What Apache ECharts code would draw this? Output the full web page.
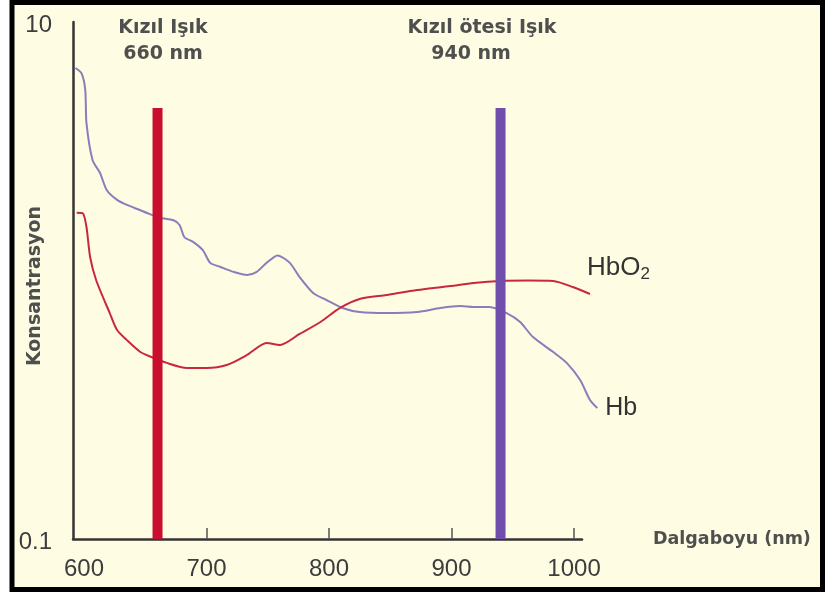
<!DOCTYPE html>
<html>
<head>
<meta charset="utf-8">
<script src="https://cdn.jsdelivr.net/npm/echarts@6/dist/echarts.min.js"></script>
<style>
  html, body { margin: 0; padding: 0; background: #fff; }
  #chart { width: 826px; height: 592px; }
</style>
</head>
<body>
<div id="chart"></div>
<script>
// Absorption spectra of deoxy- (Hb) and oxy-haemoglobin (HbO2), log scale
const hbWavelength = [593, 598, 601, 602, 607, 613, 618.5, 627, 635, 646,
  652, 662, 673, 678, 682, 689, 697, 703, 711, 722,
  733, 741, 749, 758, 768, 776, 787, 798, 811, 825,
  847, 872, 891, 907, 918, 931, 945, 956, 966.5, 983,
  994, 1005, 1013, 1019];
const hbValues = [6.64, 6.33, 5.46, 4.06, 2.92, 2.61, 2.24, 2.05, 1.96, 1.87,
  1.82, 1.75, 1.71, 1.64, 1.47, 1.41, 1.31, 1.17, 1.13, 1.08,
  1.05, 1.08, 1.17, 1.25, 1.17, 1.03, 0.895, 0.84, 0.783, 0.755,
  0.748, 0.755, 0.783, 0.797, 0.79, 0.79, 0.748, 0.691, 0.604, 0.529,
  0.48, 0.412, 0.345, 0.321];

const hbo2Wavelength = [594, 599, 602, 605, 610, 621, 627, 635, 646, 655,
  667.5, 684, 700, 716.5, 733, 749, 760, 776, 793, 809,
  825, 847, 872, 899, 918, 940, 962, 983, 999, 1013];
const hbo2Values = [1.83, 1.82, 1.61, 1.23, 1.00, 0.748, 0.643, 0.588, 0.529, 0.506,
  0.48, 0.459, 0.459, 0.471, 0.515, 0.573, 0.563, 0.621, 0.691, 0.783,
  0.848, 0.879, 0.919, 0.952, 0.978, 0.996, 1.00, 0.996, 0.944, 0.887];

// Light sources: red and infrared LEDs
const lightNames = ['Kızıl Işık', 'Kızıl ötesi Işık'];
const lightWavelengths = [660, 940];
const lightTop = 4.65;
const lightBottom = 0.1;

const xTickValues = [700, 800, 900, 1000];
const xLabelValues = [600, 700, 800, 900, 1000];

const seriesNames = ['Hb', 'HbO2'];

// Axis range, and the wider range the spectra run out to past the axis end
const xMin = 591, xMax = 1006.5, xCurveMax = 1020;
const yMin = 0.1, yMax = 10;

const textFont = '"DejaVu Sans", sans-serif';
const numFont = '"Liberation Sans", Arial, sans-serif';
const textGray = '#4f4f4f';

function pairs(xs, ys) { return xs.map((x, i) => [x, ys[i]]); }

function headerText(text, x, y) {
  return { type: 'text', z: 10, silent: true, x: x, y: y,
    style: { text: text, fontFamily: textFont, fontWeight: 'bold', fontSize: 19, fill: textGray,
      align: 'center', verticalAlign: 'middle' } };
}

// Plot box geometry; the curve grid shares the same px-per-nm scale
const plotLeft = 73, plotTop = 22, plotBottom = 53, plotWidth = 509;
const pxPerNm = plotWidth / (xMax - xMin);
const curveWidth = (xCurveMax - xMin) * pxPerNm;

const chart = echarts.init(document.getElementById('chart'), null, { renderer: 'canvas' });

chart.setOption({
  animation: false,
  backgroundColor: '#ffffff',
  grid: [
    { left: plotLeft, width: plotWidth, top: plotTop, bottom: plotBottom, containLabel: false, outerBoundsMode: 'none' },
    { left: plotLeft, width: curveWidth, top: plotTop, bottom: plotBottom, containLabel: false, outerBoundsMode: 'none' }
  ],
  xAxis: [{
    type: 'value',
    gridIndex: 0,
    min: xMin,
    max: xMax,
    splitLine: { show: false },
    axisLine: { lineStyle: { color: '#353535', width: 2.5 } },
    axisTick: { show: true, inside: true, length: 11, customValues: xTickValues,
      lineStyle: { color: '#555', width: 1.5 } },
    axisLabel: { customValues: xLabelValues, margin: 18, fontSize: 24, fontFamily: numFont, color: '#3d3d3d',
      formatter: v => String(v) },
    name: 'Dalgaboyu (nm)',
    nameLocation: 'end',
    nameGap: 71,
    nameMoveOverlap: false,
    nameTextStyle: { fontFamily: textFont, fontWeight: 'bold', fontSize: 17.5, color: textGray,
      align: 'left', verticalAlign: 'middle', padding: [38, 0, 0, 0] }
  }, {
    type: 'value',
    gridIndex: 1,
    min: xMin,
    max: xCurveMax,
    show: false
  }],
  yAxis: [{
    type: 'log',
    gridIndex: 0,
    logBase: 10,
    min: yMin,
    max: yMax,
    splitLine: { show: false },
    axisLine: { show: true, lineStyle: { color: '#353535', width: 2.5 } },
    axisTick: { show: false },
    axisLabel: {
      margin: 21,
      formatter: v => (Math.abs(v - 1) < 1e-9 ? '' : '{n|' + String(+(+v).toPrecision(3)) + '}'),
      rich: { n: { fontSize: 24, fontFamily: numFont, color: '#3d3d3d', padding: [7, 0, 0, 0] } }
    },
    name: 'Konsantrasyon',
    nameLocation: 'middle',
    nameRotate: 90,
    nameGap: 28,
    nameMoveOverlap: false,
    nameTextStyle: { fontFamily: textFont, fontWeight: 'bold', fontSize: 19, color: textGray, padding: [0, 11, 0, 0] }
  }, {
    type: 'log',
    gridIndex: 1,
    logBase: 10,
    min: yMin,
    max: yMax,
    show: false
  }],
  graphic: [
    { type: 'rect', z: -10, silent: true,
      shape: { x: 12, y: 2.5, width: 810.5, height: 587 },
      style: { fill: '#fefde3', stroke: '#000', lineWidth: 5 } },
    headerText(lightNames[0], 163, 28),
    headerText(lightWavelengths[0] + ' nm', 163, 54),
    headerText(lightNames[1], 482, 28),
    headerText(lightWavelengths[1] + ' nm', 471, 54)
  ],
  series: [
    {
      name: seriesNames[0], type: 'line', xAxisIndex: 1, yAxisIndex: 1,
      data: pairs(hbWavelength, hbValues),
      symbol: 'none', smooth: 0.25, z: 3,
      lineStyle: { color: '#8a7dbb', width: 2 },
      endLabel: { show: true, formatter: seriesNames[0], distance: 6, offset: [2, 0],
        fontFamily: numFont, fontSize: 25, color: '#333' }
    },
    {
      name: seriesNames[1], type: 'line', xAxisIndex: 1, yAxisIndex: 1,
      data: pairs(hbo2Wavelength, hbo2Values),
      symbol: 'none', smooth: 0.25, z: 3,
      lineStyle: { color: '#c8283c', width: 2 },
      endLabel: { show: true, formatter: '{a|HbO}{b|2}', distance: 0, offset: [-3, -25],
        rich: {
          a: { fontFamily: numFont, fontSize: 26, color: '#333', lineHeight: 28, verticalAlign: 'top' },
          b: { fontFamily: numFont, fontSize: 17, color: '#333', lineHeight: 17, padding: [16, 0, 0, 0], verticalAlign: 'bottom' }
        } }
    },
    {
      name: lightNames[0], type: 'line', xAxisIndex: 0, yAxisIndex: 0,
      data: [[lightWavelengths[0], lightBottom], [lightWavelengths[0], lightTop]],
      symbol: 'none', z: 5, lineStyle: { color: '#c8102e', width: 10, cap: 'butt' }
    },
    {
      name: lightNames[1], type: 'line', xAxisIndex: 0, yAxisIndex: 0,
      data: [[lightWavelengths[1], lightBottom], [lightWavelengths[1], lightTop]],
      symbol: 'none', z: 5, lineStyle: { color: '#6f4fab', width: 10, cap: 'butt' }
    }
  ]
});
</script>
</body>
</html>
